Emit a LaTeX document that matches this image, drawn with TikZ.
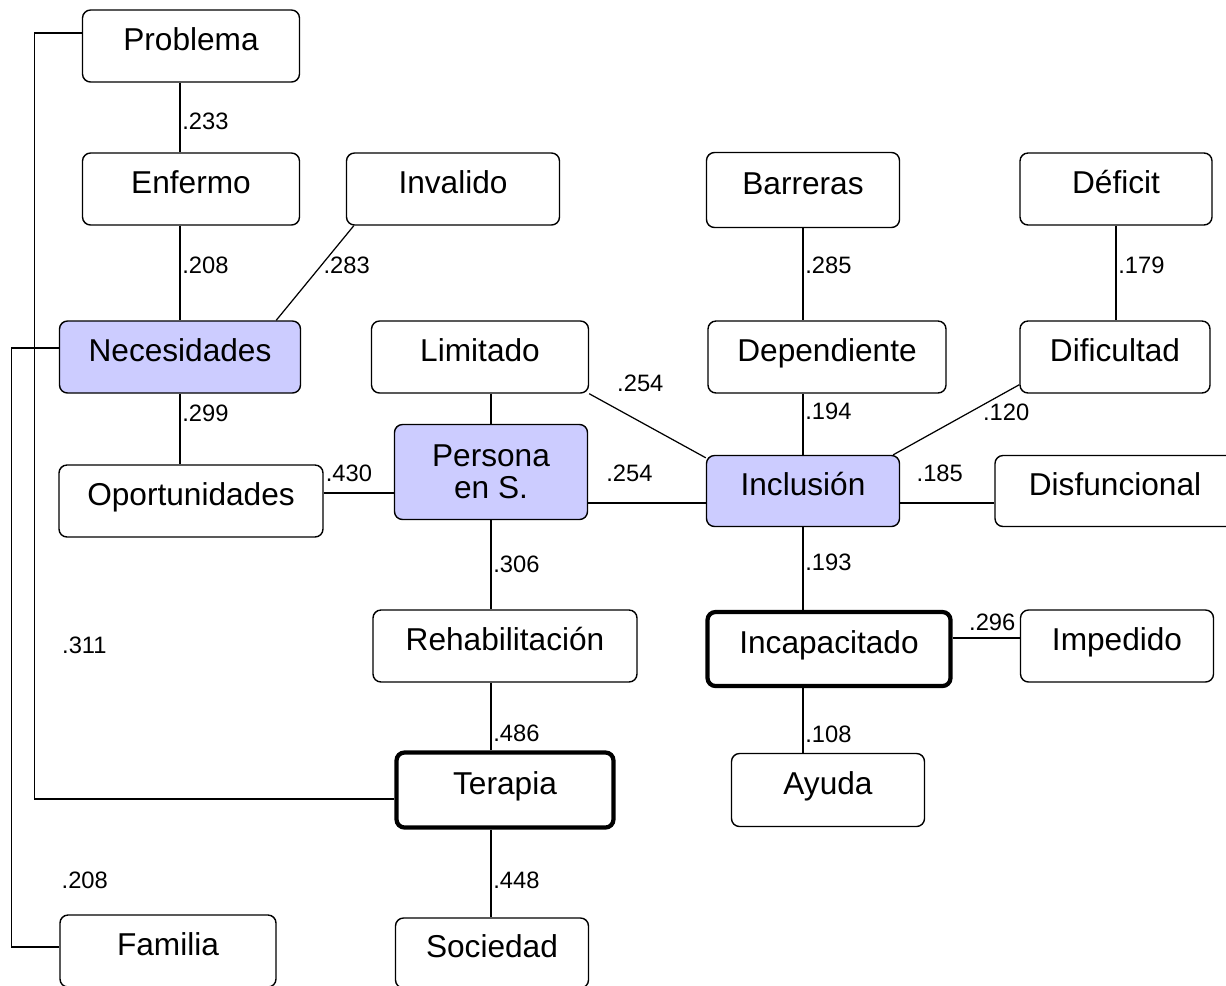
\documentclass[tikz,border=0pt]{standalone}
\usepackage{fontspec}
\setmainfont{Liberation Sans}
\usetikzlibrary{calc,positioning}
\definecolor{keyfill}{RGB}{204,204,255}

\begin{document}
\begin{tikzpicture}[x=0.02cm,y=-0.02cm,line width=0.7pt,
    box/.style={rectangle,draw,rounded corners=0.16cm,line width=0.8pt,
      minimum width=4.34cm,minimum height=1.44cm,inner sep=2pt,
      text height=0.75em,text depth=0.22em,
      font=\fontsize{18}{18}\selectfont},
    key/.style={box,fill=keyfill},
    hub/.style={box,line width=2.4pt},
    bw/.style={minimum width=#1*0.02cm},
    bh/.style={minimum height=#1*0.02cm},
    lbl/.style={font=\fontsize{13.5}{13.5}\selectfont,inner sep=1pt}]
  \useasboundingbox (0,0) rectangle (1226,985);
  % rows of boxes
  \node[box] (prob) at (191,46) {Problema};
  \node[box] (enf) at (191,189) {Enfermo};
  \node[box,bw=213] (inv) at (453,189) {Invalido};
  \node[box,bw=193,bh=75] (bar) at (803,190) {Barreras};
  \node[box,bw=192] (def) at (1116,189) {Déficit};
  \node[key,bw=241] (nec) at (180,357) {Necesidades};
  \node[box] (lim) at (480,357) {Limitado};
  \node[box,bw=238] (dep) at (827,357) {Dependiente};
  \node[box,bw=190] (dif) at (1115,357) {Dificultad};
  \node[box,bw=264] (opo) at (191,501) {Oportunidades};
  \node[key,bw=193,bh=95,align=center,text height=,text depth=] (per) at (491,472) {Persona\\en S.};
  \node[key,bw=193,bh=71] (inc) at (803,491) {Inclusión};
  \node[box,bw=240,bh=71] (dis) at (1115,491) {Disfuncional};
  \node[box,bw=264] (reh) at (505,646) {Rehabilitación};
  \node[hub,bh=75] (ter) at (505,790) {Terapia};
  \node[hub,bw=243,bh=74] (inp) at (829,649) {Incapacitado};
  \node[box,bw=193] (imp) at (1117,646) {Impedido};
  \node[box,bw=193,bh=73] (ayu) at (828,790) {Ayuda};
  \node[box,bw=216] (fam) at (168,951) {Familia};
  \node[box,bw=193,bh=70] (soc) at (492,953) {Sociedad};
  % left column
  \draw (prob.south -| nec) -- node[lbl,pos=.55,right] {.233} (enf.north -| nec);
  \draw (enf.south -| nec) -- node[lbl,pos=.42,right] {.208} (nec.north);
  \draw ($(nec.north east)+(-25,0)$) -- node[lbl,pos=.58,right] {.283} ($(inv.south west)+(8,0)$);
  \draw (nec.south) -- node[lbl,pos=.28,right] {.299} (opo.north -| nec);
  \draw ($(opo.east)+(0,-8)$) coordinate (oe) -- node[lbl,pos=.36,above=5pt] {.430} (oe -| per.west);
  % long links on the left
  \draw ($(prob.west)+(0,-13)$) -- ++(-47,0) |- node[lbl,pos=.4,right=0.5cm] {.311} ($(ter.west)+(0,9)$);
  \draw ($(nec.west)+(0,-9)$) -- ++(-47,0) |- node[lbl,pos=.444,right=0.95cm] {.208} ($(fam.west)+(0,-4)$);
  % middle column
  \draw (lim.south -| per) -- (per.north);
  \draw (per.south) -- node[lbl,pos=.49,right] {.306} (reh.north -| per);
  \draw (reh.south -| per) -- node[lbl,pos=.75,right] {.486} (ter.north -| per);
  \draw (ter.south -| per) -- node[lbl,pos=.58,right] {.448} (soc.north -| per);
  % around Inclusión
  \draw (lim.south east) -- node[lbl,pos=.22,above right=8pt and 0pt] {.254} ($(inc.north west)+(0,3)$);
  \draw ($(inc.west)+(0,12)$) coordinate (iw) -- node[lbl,pos=.65,above=11pt] {.254} (iw -| per.east);
  \draw ($(inc.east)+(0,12)$) coordinate (ie) -- node[lbl,pos=.42,above=11pt] {.185} (ie -| dis.west);
  \draw (bar.south) -- node[lbl,pos=.4,right] {.285} (dep.north -| bar);
  \draw (dep.south -| inc) -- node[lbl,pos=.29,right] {.194} (inc.north);
  \draw (def.south) -- node[lbl,pos=.42,right] {.179} (dif.north -| def);
  \draw ($(dif.south west)+(0,-9)$) -- node[lbl,pos=.39,right=6pt] {.120} ($(inc.north east)+(-7,0)$);
  \draw (inc.south) -- node[lbl,pos=.42,right] {.193} (inp.north -| inc);
  \draw ($(imp.west)+(0,-8)$) coordinate (mw) -- node[lbl,pos=.41,above=3pt] {.296} (mw -| inp.east);
  \draw (inp.south -| inc) -- node[lbl,pos=.72,right] {.108} (ayu.north -| inc);
\end{tikzpicture}
\end{document}
